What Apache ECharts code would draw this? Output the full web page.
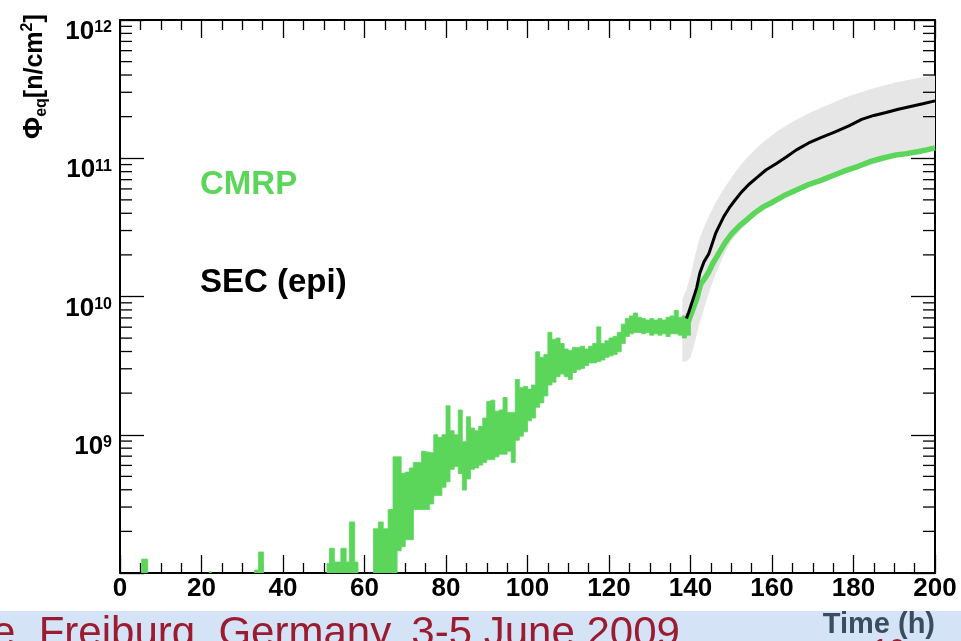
<!DOCTYPE html>
<html>
<head>
<meta charset="utf-8">
<script src="https://cdn.jsdelivr.net/npm/echarts@6/dist/echarts.min.js"></script>
<style>
html,body{margin:0;padding:0;background:#fff;}
#chart{width:961px;height:641px;}
</style>
</head>
<body>
<div id="chart"></div>
<script>
// ---- axis settings ----
var X_MIN = 0, X_MAX = 200, X_STEP = 20;
var Y_MIN = 1e8, Y_MAX = 1e12;
var yMinorTicks = [2e8,3e8,4e8,5e8,6e8,7e8,8e8,9e8,
                   2e9,3e9,4e9,5e9,6e9,7e9,8e9,9e9,
                   2e10,3e10,4e10,5e10,6e10,7e10,8e10,9e10,
                   2e11,3e11,4e11,5e11,6e11,7e11,8e11,9e11];

// ---- CMRP histogram bins (time start, time end, low, high) ----
var binStart = [5.3,21.9,33.0,34.0,50.8,51.4,52.6,54.2,55.5,56.3,57.6,62.2,63.4,64.6,65.8,
  67,68,69,70,71,72,73,74,75,76,77,78,79,80,81,82,83,84,85,86,87,88,89,90,91,92,93,94,95,96,97,98,99,
  100,101,102,103,104,105,106,107,108,109,110,111,112,113,114,115,116,117,118,119,120,121,122,123,124,
  125,126,127,128,129,130,131,132,133,134,135,136,137,138,139];
var binEnd = [6.8,22.4,34.0,35.2,51.4,52.6,54.2,55.5,56.3,57.6,58.4,63.4,64.6,65.8,67,
  68,69,70,71,72,73,74,75,76,77,78,79,80,81,82,83,84,85,86,87,88,89,90,91,92,93,94,95,96,97,98,99,100,
  101,102,103,104,105,106,107,108,109,110,111,112,113,114,115,116,117,118,119,120,121,122,123,124,125,
  126,127,128,129,130,131,132,133,134,135,136,137,138,139,140];
var binLow = [1e8,1e8,1e8,1e8,1e8,1e8,1e8,1e8,1e8,1e8,1e8,1e8,1e8,1e8,1e8,
  1e8,1.45e8,1.55e8,1.74e8,1.74e8,2.88e8,2.88e8,2.88e8,2.88e8,3.16e8,3.63e8,3.63e8,4.17e8,4.57e8,5.62e8,
  5.89e8,5.25e8,3.98e8,4.79e8,5.62e8,5.75e8,6.03e8,6.31e8,6.61e8,6.61e8,6.92e8,7.24e8,7.24e8,7.59e8,6.31e8,
  9.12e8,9.77e8,1.05e9,1.26e9,1.32e9,1.58e9,1.70e9,1.91e9,2.29e9,2.40e9,2.63e9,2.75e9,2.63e9,2.51e9,2.82e9,
  2.95e9,3.02e9,3.16e9,3.31e9,3.31e9,3.39e9,3.47e9,3.63e9,3.72e9,3.80e9,3.98e9,4.57e9,5.13e9,5.37e9,5.50e9,
  5.50e9,5.37e9,5.50e9,5.25e9,5.37e9,5.25e9,5.37e9,5.13e9,5.37e9,5.37e9,5.25e9,5.01e9,5.25e9];
var binHigh = [1.26e8,1.02e8,1.05e8,1.42e8,1.17e8,1.51e8,1.20e8,1.51e8,1.20e8,2.34e8,1.20e8,2.09e8,2.34e8,2.09e8,2.88e8,
  6.92e8,6.92e8,5.25e8,5.37e8,5.75e8,6.31e8,6.31e8,7.59e8,7.50e8,7.41e8,1.00e9,9.55e8,1.00e9,1.62e9,1.07e9,
  1.00e9,1.51e9,8.91e8,1.35e9,1.12e9,1.07e9,1.15e9,1.32e9,1.74e9,1.78e9,1.48e9,1.51e9,1.86e9,1.45e9,1.45e9,
  2.51e9,2.19e9,2.24e9,2.14e9,2.29e9,3.98e9,3.63e9,3.80e9,5.50e9,4.90e9,5.01e9,4.57e9,4.17e9,4.07e9,4.27e9,
  4.27e9,4.37e9,4.17e9,4.37e9,4.57e9,6.03e9,4.57e9,4.79e9,5.01e9,5.13e9,5.50e9,6.31e9,6.92e9,7.24e9,7.59e9,
  7.08e9,6.92e9,6.76e9,6.92e9,6.76e9,6.92e9,6.76e9,7.08e9,7.24e9,7.94e9,7.08e9,7.24e9,7.59e9];

// ---- CMRP smooth part ----
var cmrpT = [139,139.5,140.5,141.5,142.5,143.5,144.5,145.5,146.5,147.5,148.5,150,152,154,156,158,160,163,166,169,172,175,178,181,184,187,190,193,196,198,200];
var cmrpV = [6.31e9,6.61e9,7.94e9,9.55e9,1.23e10,1.35e10,1.51e10,1.74e10,1.95e10,2.19e10,2.45e10,2.82e10,3.24e10,3.63e10,4.07e10,4.47e10,4.79e10,5.37e10,5.89e10,6.46e10,6.92e10,7.50e10,8.13e10,8.71e10,9.44e10,1.00e11,1.05e11,1.08e11,1.12e11,1.15e11,1.19e11];

// ---- SEC (epi) ----
var secT = [139,139.5,140.5,141.5,142.3,143.3,144.5,145.3,146.2,147.2,148.2,149.5,151,152.5,154.3,156.5,158.5,161,163.5,166,169,172,175.5,179,182,185,188,191,194,197,200];
var secV = [6.92e9,7.59e9,9.33e9,1.15e10,1.48e10,1.78e10,2.04e10,2.40e10,2.88e10,3.31e10,3.80e10,4.37e10,5.01e10,5.69e10,6.46e10,7.33e10,8.22e10,9.12e10,1.02e11,1.15e11,1.29e11,1.41e11,1.55e11,1.72e11,1.91e11,2.04e11,2.14e11,2.26e11,2.37e11,2.48e11,2.60e11];

// ---- SEC uncertainty band ----
var bandT  = [138,139,140,141,142,143,144,145,146,148,150,152,154,156,158,161,164,167,170,174,178,182,186,190,195,200];
var bandHi = [9.55e9,1.12e10,1.41e10,1.91e10,2.51e10,3.02e10,3.55e10,4.07e10,4.68e10,5.89e10,7.24e10,8.71e10,1.02e11,1.17e11,1.32e11,1.55e11,1.76e11,1.97e11,2.19e11,2.45e11,2.75e11,3.02e11,3.27e11,3.51e11,3.76e11,3.98e11];
var bandLo = [3.39e9,3.39e9,3.63e9,4.57e9,6.03e9,7.59e9,9.55e9,1.17e10,1.41e10,1.95e10,2.51e10,2.95e10,3.39e10,3.98e10,4.37e10,4.90e10,5.37e10,5.89e10,6.46e10,7.08e10,7.94e10,8.51e10,9.23e10,1.02e11,1.10e11,1.175e11];

var GREEN = '#5bd65b';
var FONT = "'Liberation Sans', Arial, Helvetica, sans-serif";

// group contiguous bins into runs (index ranges)
var runs = [];
(function () {
  var s = 0;
  for (var i = 1; i <= binStart.length; i++) {
    if (i === binStart.length || Math.abs(binEnd[i - 1] - binStart[i]) > 1e-6) {
      runs.push([s, i - 1]);
      s = i;
    }
  }
})();
var runAt = {};
runs.forEach(function (r) { runAt[r[0]] = r[1]; });

var chart = echarts.init(document.getElementById('chart'), null, {renderer: 'canvas'});

var tickStyle = {color: '#000', width: 1.3};
function xAxisCfg(pos, labels) {
  return {
    type: 'value', position: pos, min: X_MIN, max: X_MAX, interval: X_STEP,
    axisLine: {show: true, onZero: false, lineStyle: {color: '#000', width: 2}},
    axisTick: {show: true, inside: true, length: 18, lineStyle: tickStyle},
    minorTick: {show: true, splitNumber: 4, length: 10, lineStyle: tickStyle},
    splitLine: {show: false},
    axisLabel: labels ? {show: true, color: '#000', fontFamily: FONT, fontWeight: 'bold', fontSize: 26, margin: 3} : {show: false}
  };
}
function yAxisCfg(pos, labels) {
  return {
    type: 'log', logBase: 10, position: pos, min: Y_MIN, max: Y_MAX, splitNumber: 4,
    axisLine: {show: true, onZero: false, lineStyle: {color: '#000', width: 2}},
    axisTick: {show: true, inside: true, length: 24, lineStyle: tickStyle},
    splitLine: {show: false},
    axisLabel: labels ? {
      show: true, margin: 8, verticalAlign: 'top',
      formatter: function (v) {
        var e = Math.round(Math.log10(v));
        if (v <= Y_MIN * 1.001) return '';
        return '{b|10}{s|' + e + '}';
      },
      rich: {
        b: {fontFamily: FONT, fontWeight: 'bold', fontSize: 26, color: '#000', lineHeight: 24},
        s: {fontFamily: FONT, fontWeight: 'bold', fontSize: 16, color: '#000', verticalAlign: 'top', lineHeight: 24}
      }
    } : {show: false}
  };
}

var option = {
  animation: false,
  backgroundColor: '#ffffff',
  grid: {left: 120, right: 26, top: 20, bottom: 68, containLabel: false},
  xAxis: [xAxisCfg('bottom', true), xAxisCfg('top', false)],
  yAxis: [yAxisCfg('left', true), yAxisCfg('right', false)],
  series: [
    {
      type: 'custom', name: 'band', z: 1, clip: true,
      data: bandT.map(function (t, i) { return [t, bandLo[i], bandHi[i]]; }),
      encode: {x: 0, y: [1, 2]},
      renderItem: function (params, api) {
        if (params.dataIndex !== 0) return null;
        var pts = [];
        for (var i = 0; i < bandT.length; i++) pts.push(api.coord([bandT[i], bandHi[i]]));
        for (var j = bandT.length - 1; j >= 0; j--) pts.push(api.coord([bandT[j], bandLo[j]]));
        return {type: 'polygon', shape: {points: pts}, style: {fill: '#e6e6e6'}};
      }
    },
    {
      type: 'custom', name: 'CMRP bins', z: 2, clip: true,
      data: binStart.map(function (t, i) { return [t, binEnd[i], binLow[i], binHigh[i]]; }),
      encode: {x: [0, 1], y: [2, 3]},
      renderItem: function (params, api) {
        var s = params.dataIndex;
        if (!(s in runAt)) return null;
        var e = runAt[s];
        var pts = [], k;
        for (k = s; k <= e; k++) {
          pts.push(api.coord([binStart[k], binHigh[k]]));
          pts.push(api.coord([binEnd[k], binHigh[k]]));
        }
        for (k = e; k >= s; k--) {
          pts.push(api.coord([binEnd[k], binLow[k]]));
          pts.push(api.coord([binStart[k], binLow[k]]));
        }
        return {type: 'polygon', shape: {points: pts}, style: {fill: GREEN, stroke: GREEN, lineWidth: 0.8}};
      }
    },
    {
      type: 'line', name: 'CMRP', z: 3, showSymbol: false, symbol: 'none',
      data: cmrpT.map(function (t, i) { return [t, cmrpV[i]]; }),
      lineStyle: {color: GREEN, width: 5.5}
    },
    {
      type: 'line', name: 'SEC (epi)', z: 4, showSymbol: false, symbol: 'none',
      data: secT.map(function (t, i) { return [t, secV[i]]; }),
      lineStyle: {color: '#000', width: 3}
    },
    {
      type: 'custom', name: 'minor ticks', z: 5, clip: false, silent: true,
      data: yMinorTicks.map(function (v) { return [v]; }),
      encode: {y: 0},
      renderItem: function (params, api) {
        var v = api.value(0);
        var l = api.coord([X_MIN, v]);
        var r = api.coord([X_MAX, v]);
        return {type: 'group', children: [
          {type: 'line', shape: {x1: l[0], y1: l[1], x2: l[0] + 12, y2: l[1]}, style: {stroke: '#000', lineWidth: 1.3}},
          {type: 'line', shape: {x1: r[0] - 12, y1: r[1], x2: r[0], y2: r[1]}, style: {stroke: '#000', lineWidth: 1.3}}
        ]};
      }
    }
  ],
  graphic: [
    {type: 'rect', z: 0, shape: {x: 0, y: 611, width: 961, height: 30}, style: {fill: '#d4e4f6'}},
    {type: 'text', z: 10, x: 935, y: 625, style: {text: 'Time (h)', font: 'bold 29px ' + FONT, fill: '#3a4c60', align: 'right', verticalAlign: 'middle'}},
    {type: 'text', z: 10, x: -8, y: 634, style: {text: 'e, Freiburg, Germany, 3-5 June 2009', font: '42px ' + FONT, fill: '#9b1b30', align: 'left', verticalAlign: 'middle'}},
    {type: 'text', z: 9, x: 872, y: 651, style: {text: '10', font: '30px ' + FONT, fill: '#9b1b30', align: 'left', verticalAlign: 'middle'}},
    {type: 'text', z: 10, x: 200, y: 185, style: {text: 'CMRP', font: 'bold 33px ' + FONT, fill: GREEN, align: 'left', verticalAlign: 'middle'}},
    {type: 'text', z: 10, x: 200, y: 283, style: {text: 'SEC (epi)', font: 'bold 33px ' + FONT, fill: '#000', align: 'left', verticalAlign: 'middle'}},
    {type: 'text', z: 10, x: 35, y: 139, rotation: Math.PI / 2,
      style: {
        text: '{p|\u03A6}{e|eq}{n|[n/cm}{u|2}{n|]}', align: 'left', verticalAlign: 'middle',
        rich: {
          p: {font: 'bold 27px ' + FONT, fill: '#000', lineHeight: 30, verticalAlign: 'middle'},
          e: {font: 'bold 16px ' + FONT, fill: '#000', lineHeight: 30, verticalAlign: 'bottom'},
          n: {font: 'bold 25px ' + FONT, fill: '#000', lineHeight: 30, verticalAlign: 'middle'},
          u: {font: 'bold 16px ' + FONT, fill: '#000', lineHeight: 30, verticalAlign: 'top'}
        }
      }
    }
  ]
};
chart.setOption(option);
</script>
</body>
</html>
